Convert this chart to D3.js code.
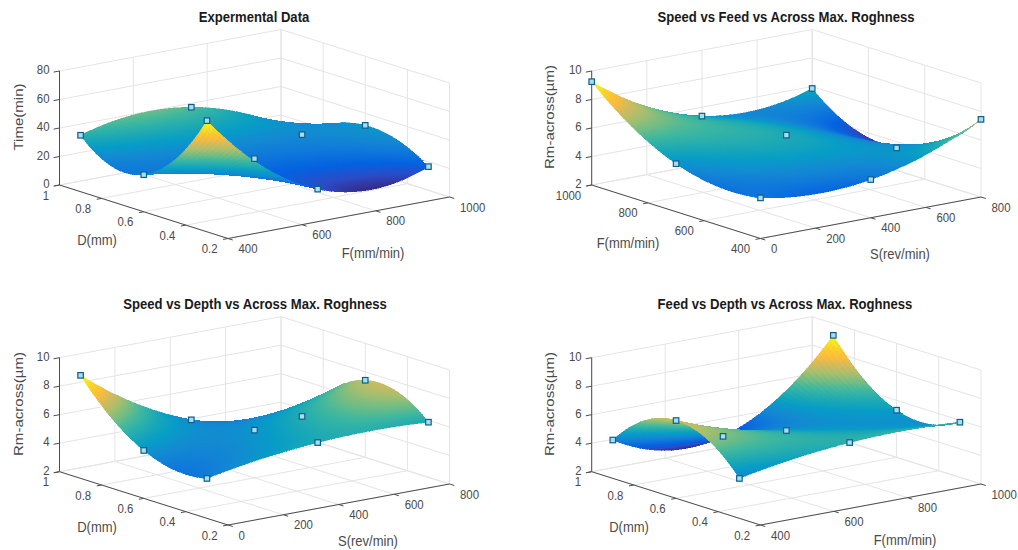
<!DOCTYPE html>
<html>
<head>
<meta charset="utf-8">
<style>
  html, body { margin: 0; padding: 0; background: #fff; }
  svg { display: block; }
  text { font-family: "Liberation Sans", Arial, sans-serif; fill: #4a4a4a; }
  .title { font-weight: bold; font-size: 13.1px; fill: #1a1a1a; text-anchor: middle; }
  .tick { font-size: 11.4px; }
  .label { font-size: 13px; text-anchor: middle; }
</style>
</head>
<body>
<div id="graph"></div>
<script src="https://cdnjs.cloudflare.com/ajax/libs/d3/7.8.5/d3.min.js"></script>
<script>
const w = 1018;
const h = 550;
const meshSteps = 64;
const boxHeight = 114;
const textStretch = 1.16; // the source picture is a bit taller than wide

// measured levels
const feedLevels = [400, 700, 1000];
const depthLevels = [0.3, 0.6, 0.9];
const speedLevels = [0, 400, 800];

// tick labels
const feedTicks = [400, 600, 800, 1000];
const depthTicks = [0.2, 0.4, 0.6, 0.8, 1];
const speedTicks = [0, 200, 400, 600, 800];
const timeTicks = [0, 20, 40, 60, 80];
const roughTicks = [2, 4, 6, 8, 10];

// z values, one row per x level, one column per y level
const timeByFeedDepth = [[78, 26, 39.6], [15.4, 22.7, 44.7], [16.6, 31.5, 10.9]];
const roughBySpeedFeed = [[4.85, 5.37, 9.25], [4.68, 5.92, 5.38], [7.45, 3.57, 5.86]];
const roughBySpeedDepth = [[4.8, 5.36, 9.23], [5.88, 5.35, 4.67], [5.87, 7.41, 3.47]];
const roughByFeedDepth = [[4.8, 7.46, 4.69], [5.88, 5.32, 3.51], [5.87, 5.31, 9.16]];

// parula colormap
const parula = ["#352a87", "#2c4bc6", "#0362e1", "#0f77db", "#1389d2", "#069dc6", "#1faab3",
  "#3db7a0", "#73bd83", "#a9be6e", "#d1bb5c", "#fbbb3d", "#f8cd2f", "#f4e821", "#f9fa0e"];

const svg = d3.select("#graph").
append("svg").
attr("width", w).
attr("height", h);

const panels = [
  {
    title: "Expermental Data", titlePos: [254, 17],
    xVals: feedLevels, yVals: depthLevels, z: timeByFeedDepth,
    xTicks: feedTicks, yTicks: depthTicks, zTicks: timeTicks,
    xName: "F(mm/min)", yName: "D(mm)", zName: "Time(min)",
    xPos: [373, 253], yPos: [97, 240], zPos: [18, 117],
    front: [228, 238.5], left: [59.5, 185], right: [449.5, 197]
  },
  {
    title: "Speed vs Feed vs Across Max. Roghness", titlePos: [786, 17],
    xVals: speedLevels, yVals: feedLevels, z: roughBySpeedFeed,
    xTicks: speedTicks, yTicks: feedTicks, zTicks: roughTicks,
    xName: "S(rev/min)", yName: "F(mm/min)", zName: "Rm-across(\u00b5m)",
    xPos: [900, 254], yPos: [628, 243], zPos: [549, 117],
    front: [760.5, 238.5], left: [591.7, 185], right: [981, 197]
  },
  {
    title: "Speed vs Depth vs Across Max. Roghness", titlePos: [255, 304],
    xVals: speedLevels, yVals: depthLevels, z: roughBySpeedDepth,
    xTicks: speedTicks, yTicks: depthTicks, zTicks: roughTicks,
    xName: "S(rev/min)", yName: "D(mm)", zName: "Rm-across(\u00b5m)",
    xPos: [368, 541], yPos: [97, 527], zPos: [18, 404],
    front: [228, 525], left: [59.5, 471.7], right: [449.5, 484]
  },
  {
    title: "Feed vs Depth vs Across Max. Roghness", titlePos: [785, 304],
    xVals: feedLevels, yVals: depthLevels, z: roughByFeedDepth,
    xTicks: feedTicks, yTicks: depthTicks, zTicks: roughTicks,
    xName: "F(mm/min)", yName: "D(mm)", zName: "Rm-across(\u00b5m)",
    xPos: [905, 540], yPos: [629, 527], zPos: [549, 404],
    front: [760.5, 525], left: [591.7, 471.7], right: [981, 484]
  }
];

// quadratic through the three levels of one axis
function quad(vals, t) {
  const a = vals[0], b = vals[1], c = vals[2];
  return [
    (t - b) * (t - c) / ((a - b) * (a - c)),
    (t - a) * (t - c) / ((b - a) * (b - c)),
    (t - a) * (t - b) / ((c - a) * (c - b))
  ];
}

function surfaceAt(p, xv, yv) {
  const wx = quad(p.xVals, xv);
  const wy = quad(p.yVals, yv);
  let sum = 0;
  for (let i = 0; i < 3; i++) {
    for (let j = 0; j < 3; j++) {
      sum += wx[i] * wy[j] * p.z[i][j];
    }
  }
  return sum;
}

panels.forEach(drawPanel);

function drawPanel(p) {
  const g = svg.append("g");

  const xScale = d3.scaleLinear().domain(d3.extent(p.xTicks)).range([0, 1]);
  const yScale = d3.scaleLinear().domain(d3.extent(p.yTicks)).range([0, 1]);
  const zScale = d3.scaleLinear().domain(d3.extent(p.zTicks)).range([0, 1]);

  const ux = p.right[0] - p.front[0], uy = p.right[1] - p.front[1];
  const vx = p.left[0] - p.front[0], vy = p.left[1] - p.front[1];

  // box fractions to screen
  function toScreen(a, b, c) {
    return [
      p.front[0] + a * ux + b * vx,
      p.front[1] + a * uy + b * vy - c * boxHeight
    ];
  }

  function line3(a, b, cls, color, width) {
    g.append("line").
    attr("class", cls).
    attr("x1", a[0]).attr("y1", a[1]).
    attr("x2", b[0]).attr("y2", b[1]).
    attr("stroke", color).
    attr("stroke-width", width);
  }

  function addText(x, y, str, cls, anchor) {
    const t = g.append("text").attr("class", cls).
    attr("transform", "translate(" + x + "," + y + ") scale(1," + textStretch + ")").
    attr("dy", "0.35em").
    text(str);
    if (anchor) t.attr("text-anchor", anchor);
  }

  const gridColor = "#e4e4e4";

  p.xTicks.forEach(t => {
    const a = xScale(t);
    line3(toScreen(a, 0, 0), toScreen(a, 1, 0), "grid", gridColor, 1);
    line3(toScreen(a, 1, 0), toScreen(a, 1, 1), "grid", gridColor, 1);
  });
  p.yTicks.forEach(t => {
    const b = yScale(t);
    line3(toScreen(0, b, 0), toScreen(1, b, 0), "grid", gridColor, 1);
    line3(toScreen(1, b, 0), toScreen(1, b, 1), "grid", gridColor, 1);
  });
  p.zTicks.forEach(t => {
    const c = zScale(t);
    line3(toScreen(0, 1, c), toScreen(1, 1, c), "grid", gridColor, 1);
    line3(toScreen(1, 1, c), toScreen(1, 0, c), "grid", gridColor, 1);
  });

  // mesh nodes
  const xStep = (p.xVals[2] - p.xVals[0]) / meshSteps;
  const yStep = (p.yVals[2] - p.yVals[0]) / meshSteps;
  const nodes = d3.range(meshSteps + 1).map(i => d3.range(meshSteps + 1).map(j => {
    const xv = p.xVals[0] + i * xStep;
    const yv = p.yVals[0] + j * yStep;
    return { xv: xv, yv: yv, zv: surfaceAt(p, xv, yv) };
  }));
  const zExtent = d3.extent(nodes.flat(), d => d.zv);
  const colorPos = d3.scaleLinear().domain(zExtent).range([0, parula.length - 1]);
  const colorRamp = d3.scaleLinear().domain(d3.range(parula.length)).range(parula);

  const node2screen = n => toScreen(xScale(n.xv), yScale(n.yv), zScale(n.zv));

  // back to front, the view comes from the low x, low y corner
  const cells = [];
  for (let i = meshSteps - 1; i >= 0; i--) {
    for (let j = meshSteps - 1; j >= 0; j--) {
      cells.push([nodes[i][j], nodes[i + 1][j], nodes[i + 1][j + 1], nodes[i][j + 1]]);
    }
  }
  g.append("g").
  attr("shape-rendering", "crispEdges").
  selectAll("path").
  data(cells).
  enter().
  append("path").
  attr("d", d => "M" + d.map(n => node2screen(n).join(",")).join("L") + "Z").
  attr("fill", d => colorRamp(colorPos(d3.mean(d, n => n.zv)))).
  attr("stroke", d => colorRamp(colorPos(d3.mean(d, n => n.zv)))).
  attr("stroke-width", 0.5);

  // axis lines
  const axisColor = "#4d4d4d";
  line3(toScreen(0, 1, 0), toScreen(0, 1, 1), "axis", axisColor, 1);
  line3(toScreen(0, 1, 0), toScreen(0, 0, 0), "axis", axisColor, 1);
  line3(toScreen(0, 0, 0), toScreen(1, 0, 0), "axis", axisColor, 1);

  const uLen = Math.hypot(ux, uy), vLen = Math.hypot(vx, vy);

  p.xTicks.forEach(t => {
    const s = toScreen(xScale(t), 0, 0);
    line3(s, [s[0] - vx / vLen * 5, s[1] - vy / vLen * 5], "axis", axisColor, 1);
    addText(s[0] + 10.5, s[1] + 10, t, "tick");
  });
  p.yTicks.forEach(t => {
    const s = toScreen(0, yScale(t), 0);
    line3(s, [s[0] - ux / uLen * 5, s[1] - uy / uLen * 5], "axis", axisColor, 1);
    addText(s[0] - 10.5, s[1] + 10, t, "tick", "end");
  });
  p.zTicks.forEach(t => {
    const s = toScreen(0, 1, zScale(t));
    line3(s, [s[0] - ux / uLen * 6, s[1] - uy / uLen * 6], "axis", axisColor, 1);
    addText(s[0] - 10, s[1] - 1.5, t, "tick", "end");
  });

  // measured points, always on top
  const points = [];
  p.xVals.forEach((xv, i) => {
    p.yVals.forEach((yv, j) => {
      points.push(toScreen(xScale(xv), yScale(yv), zScale(p.z[i][j])));
    });
  });
  g.append("g").selectAll("rect").
  data(points).
  enter().
  append("rect").
  attr("x", d => d[0] - 2.75).
  attr("y", d => d[1] - 2.75).
  attr("width", 5.5).
  attr("height", 5.5).
  attr("fill", "#a6dcf4").
  attr("stroke", "#0f5f85").
  attr("stroke-width", 1.2);

  addText(p.titlePos[0], p.titlePos[1], p.title, "title");
  addText(p.xPos[0], p.xPos[1], p.xName, "label");
  addText(p.yPos[0], p.yPos[1], p.yName, "label");

  g.append("text").attr("class", "label").
  attr("transform", "translate(" + p.zPos[0] + "," + p.zPos[1] + ") rotate(-90) scale(" + textStretch + ",1)").
  attr("dy", "0.35em").
  text(p.zName);
}
</script>
</body>
</html>
